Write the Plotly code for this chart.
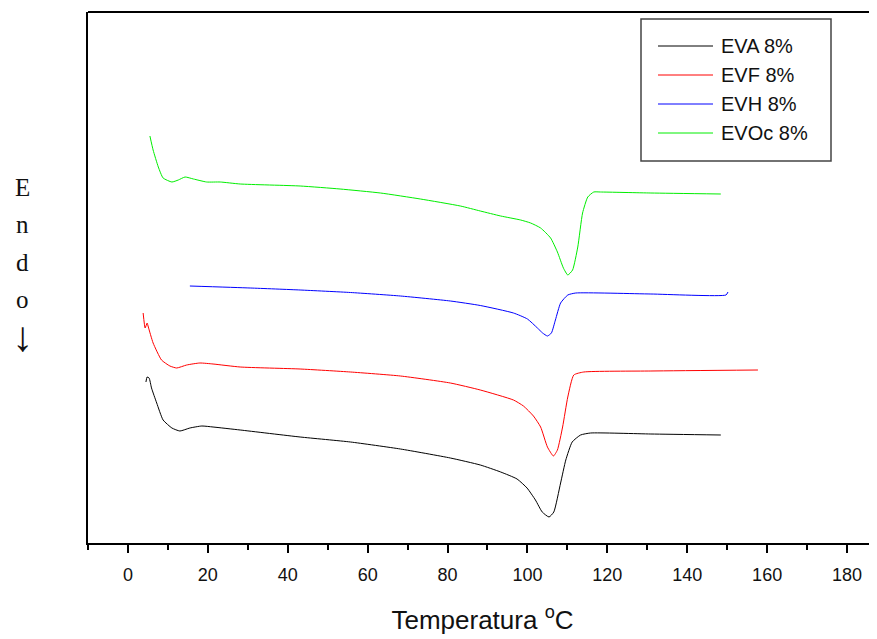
import plotly.graph_objects as go

# ---- data (temperature in °C, heat flow in arbitrary units, offset curves) ----
eva_t = [4.5, 4.8, 5.3, 5.9, 7.2, 8.8, 11.0, 13.0, 15.5, 18.5, 21.3, 28.1, 43.1, 55.7, 68.2, 80.7,
         88.2, 93.3, 97.4, 99.9, 102.0, 103.7, 105.4, 106.6, 108.3, 109.6, 111.2, 113.3, 115.8, 130.9, 148.4]
eva_y = [16.1, 16.6, 16.5, 15.5, 14.0, 12.3, 11.5, 11.2, 11.5, 11.7, 11.6, 11.3, 10.6, 10.1, 9.4, 8.5,
         7.8, 7.1, 6.4, 5.5, 4.3, 3.1, 2.6, 3.1, 6.0, 8.3, 10.1, 10.8, 11.0, 10.9, 10.8]

evf_t = [3.8, 4.3, 4.8, 5.1, 6.3, 8.4, 10.5, 12.2, 14.7, 18.0, 21.3, 28.1, 43.1, 55.7, 68.2, 80.7,
         88.2, 96.5, 99.0, 101.5, 103.3, 105.0, 106.5, 107.5, 108.8, 110.1, 111.6, 114.1, 130.9, 157.7]
evf_y = [23.0, 21.5, 22.0, 21.6, 20.0, 18.3, 17.7, 17.5, 17.8, 18.0, 17.9, 17.6, 17.4, 17.1, 16.7, 16.0,
         15.3, 14.3, 13.7, 12.7, 11.6, 9.6, 8.7, 9.3, 11.6, 14.6, 16.8, 17.1, 17.2, 17.3]

evh_t = [15.5, 30.6, 43.1, 55.7, 68.2, 80.7, 88.2, 96.5, 100.0, 102.5, 103.8, 105.0, 106.0, 107.0,
         108.3, 110.1, 112.1, 130.9, 149.7, 150.2]
evh_y = [25.7, 25.5, 25.3, 25.05, 24.7, 24.2, 23.75, 23.0, 22.4, 21.5, 21.0, 20.7, 21.0, 22.3,
         24.0, 24.8, 25.0, 24.9, 24.8, 25.1]

evoc_t = [5.5, 6.3, 7.6, 8.8, 11.0, 12.6, 14.3, 16.4, 19.7, 23.1, 28.1, 43.1, 53.1, 63.2, 73.2, 83.2,
          88.2, 93.3, 98.3, 100.8, 103.3, 105.8, 107.5, 109.0, 110.1, 111.3, 112.6, 113.8, 115.1,
          116.6, 118.3, 130.9, 148.4]
evoc_y = [40.7, 39.3, 37.6, 36.5, 36.1, 36.3, 36.6, 36.4, 36.1, 36.1, 35.9, 35.7, 35.4, 35.0, 34.4, 33.7,
          33.2, 32.7, 32.3, 32.0, 31.5, 30.5, 29.1, 27.5, 26.8, 27.3, 29.6, 33.0, 34.6,
          35.1, 35.1, 35.0, 34.9]

series_names = ["EVA 8%", "EVF 8%", "EVH 8%", "EVOc 8%"]
series_colors = ["#000000", "#ff0000", "#0000ff", "#00ee00"]
series_t = [eva_t, evf_t, evh_t, evoc_t]
series_y = [eva_y, evf_y, evh_y, evoc_y]

x_ticks = [0, 20, 40, 60, 80, 100, 120, 140, 160, 180]

fig = go.Figure()
for name, col, t, y in zip(series_names, series_colors, series_t, series_y):
    fig.add_trace(go.Scatter(x=t, y=y, mode="lines", name=name,
                             line=dict(color=col, width=1, shape="spline", smoothing=0.5),
                             showlegend=False))

FONT = "Liberation Sans, Arial, sans-serif"

# page has an 8px body margin, so the figure is shifted by 8px right/down
fig.update_layout(
    width=877, height=639,
    margin=dict(l=80, r=8, t=4, b=104),
    paper_bgcolor="white", plot_bgcolor="white",
    showlegend=False,
    xaxis=dict(range=[-10, 187.5], tickvals=x_ticks, ticks="outside", ticklen=8, tickwidth=2,
               tickcolor="black", showline=True, linecolor="black", linewidth=2,
               showgrid=False, zeroline=False, ticklabelstandoff=6,
               tickfont=dict(family=FONT, size=18, color="#111"),
               minor=dict(dtick=10, tick0=0, ticks="outside", ticklen=5, tickwidth=2, tickcolor="black"),
               title=dict(text="Temperatura <sup>o</sup>C", font=dict(family=FONT, size=26, color="#111"),
                          standoff=27)),
    yaxis=dict(range=[0, 53.1], showticklabels=False, ticks="", showline=True, linecolor="black",
               linewidth=2, showgrid=False, zeroline=False),
)

# top frame line
fig.add_shape(type="line", xref="paper", yref="paper", x0=0, x1=1, y0=1, y1=1,
              line=dict(color="black", width=2))

# helpers mapping reference screen pixels to paper coordinates
W, H = 789.0, 531.0
def px_x(px):
    return (px - 88) / W
def px_y(py):
    return (543 - py) / H

# Legend box (drawn manually to match reference geometry)
fig.add_shape(type="rect", xref="paper", yref="paper",
              x0=px_x(641), x1=px_x(831), y0=px_y(161), y1=px_y(19),
              line=dict(color="#444", width=1.5), fillcolor="white")
for i, (name, col) in enumerate(zip(series_names, series_colors)):
    yy = 46 + i * 29
    fig.add_shape(type="line", xref="paper", yref="paper",
                  x0=px_x(658), x1=px_x(713), y0=px_y(yy), y1=px_y(yy),
                  line=dict(color=col, width=1))
    fig.add_annotation(xref="paper", yref="paper", x=px_x(719), y=px_y(yy),
                       xanchor="left", yanchor="middle", text=name, showarrow=False,
                       font=dict(family=FONT, size=20, color="#111"))

# Vertical "Endo ↓" label
for i, ch in enumerate(["E", "n", "d", "o"]):
    fig.add_annotation(xref="paper", yref="paper", x=px_x(22), y=px_y(187 + i * 37.5),
                       xanchor="center", yanchor="middle", text=ch, showarrow=False,
                       font=dict(family="Liberation Serif, Times New Roman, serif", size=25, color="#111"))
fig.add_annotation(xref="paper", yref="paper", x=px_x(22), y=px_y(337),
                   xanchor="center", yanchor="middle", text="↓", showarrow=False,
                   font=dict(family="Liberation Serif, Times New Roman, serif", size=42, color="#111"))

fig.write_html("out.html")
